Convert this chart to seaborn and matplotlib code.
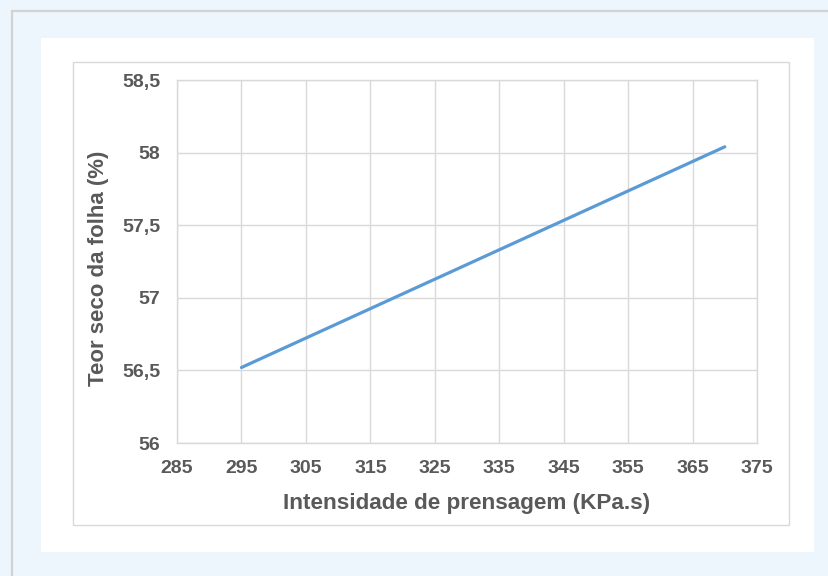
import matplotlib
matplotlib.use("Agg")
import matplotlib.pyplot as plt
from matplotlib.patches import Rectangle
from matplotlib.lines import Line2D
from matplotlib.ticker import FuncFormatter
import seaborn as sns
import pandas as pd

# Pressing intensity vs. sheet dry content
intensidade = [295, 370]
teor_seco = [56.52, 58.04]
x_ticks = [285, 295, 305, 315, 325, 335, 345, 355, 365, 375]
y_ticks = [56.0, 56.5, 57.0, 57.5, 58.0, 58.5]

df = pd.DataFrame({"intensidade": intensidade, "teor_seco": teor_seco})

sns.set_style("white")
plt.rcParams["font.family"] = ["Liberation Sans", "DejaVu Sans"]

W, H = 829, 576
fig = plt.figure(figsize=(W / 100, H / 100), dpi=100, facecolor="#eef6fd")


def fx(px):
    return px / W


def fy(py):
    return 1 - py / H


# outer frame lines (top and left)
fig.add_artist(Line2D([fx(12), 1], [fy(11), fy(11)], color="#d2d2d2", lw=1.6,
                      transform=fig.transFigure, zorder=-1))
fig.add_artist(Line2D([fx(12), fx(12)], [fy(11), 0], color="#d2d2d2", lw=1.6,
                      transform=fig.transFigure, zorder=-1))
# white panel
fig.patches.append(Rectangle((fx(41), fy(552)), fx(814) - fx(41), fy(38) - fy(552),
                             transform=fig.transFigure, facecolor="white",
                             edgecolor="none", zorder=-3))
# chart border box
fig.patches.append(Rectangle((fx(73), fy(525)), fx(789) - fx(73), fy(62) - fy(525),
                             transform=fig.transFigure, facecolor="white",
                             edgecolor="#d9d9d9", lw=1.0, zorder=-2))

ax = fig.add_axes([fx(177), fy(443), fx(757) - fx(177), fy(80) - fy(443)])
ax.set_facecolor("white")

sns.lineplot(data=df, x="intensidade", y="teor_seco", ax=ax,
             color="#5b9bd5", linewidth=2.3, zorder=3)

ax.set_xlim(285, 375)
ax.set_ylim(56, 58.5)
ax.set_xticks(x_ticks)
ax.set_yticks(y_ticks)


def fmt(v, pos):
    s = f"{v:g}"
    return s.replace(".", ",")


ax.xaxis.set_major_formatter(FuncFormatter(fmt))
ax.yaxis.set_major_formatter(FuncFormatter(fmt))

ax.grid(True, color="#d9d9d9", linewidth=1.0, zorder=0)
ax.set_axisbelow(True)
for sp in ax.spines.values():
    sp.set_color("#d9d9d9")
    sp.set_linewidth(1.0)

lab_color = "#595959"
ax.tick_params(axis="both", length=0, labelsize=14, labelcolor=lab_color)
ax.tick_params(axis="x", pad=12)
ax.tick_params(axis="y", pad=12)
for t in ax.get_xticklabels() + ax.get_yticklabels():
    t.set_fontweight("bold")

ax.set_xlabel("Intensidade de prensagem (KPa.s)", fontsize=16.2,
              fontweight="bold", color=lab_color)
ax.set_ylabel("Teor seco da folha (%)", fontsize=16,
              fontweight="bold", color=lab_color)
ax.xaxis.label.set_va("center")
ax.yaxis.label.set_va("center")
ax.xaxis.set_label_coords(0.5, -0.168)
ax.yaxis.set_label_coords(-0.136, 0.48)

fig.savefig("out.png", dpi=100, facecolor=fig.get_facecolor())
